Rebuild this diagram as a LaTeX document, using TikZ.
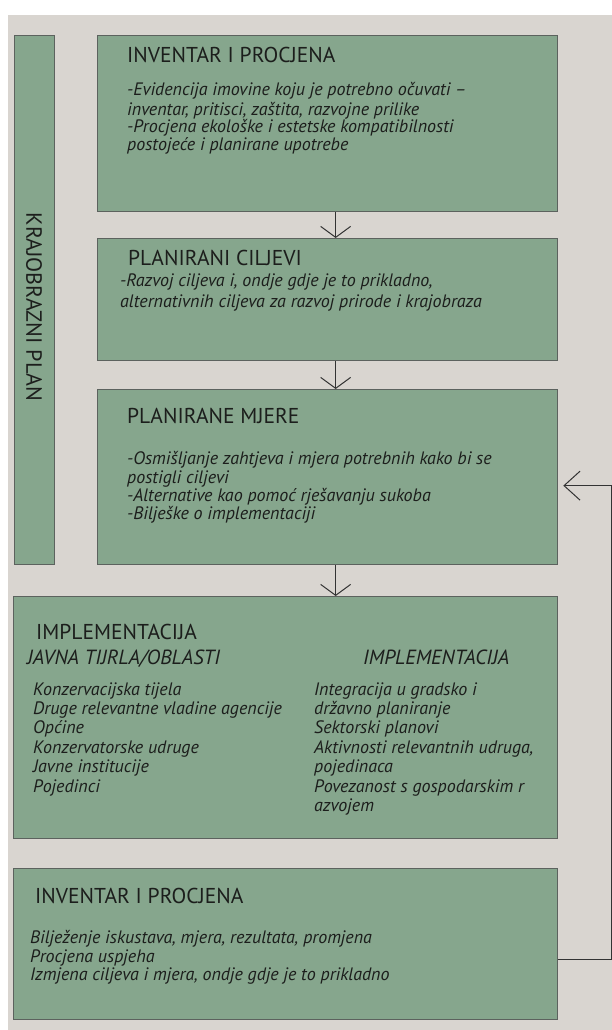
\documentclass[tikz,border=0pt]{standalone}
\usepackage{fontspec}
\setmainfont{PT Sans}
\usepackage{xcolor}
\usetikzlibrary{arrows.meta}

\definecolor{pozadina}{HTML}{D9D5D0}
\definecolor{zelena}{HTML}{86A68D}
\definecolor{rub}{HTML}{5C625E}
\definecolor{tekst}{HTML}{1C1E1C}

\tikzset{
	okvir/.style={draw=rub, line width=1.3pt, fill=zelena, anchor=north west, inner sep=0pt},
	naslov/.style={anchor=base west, inner sep=0pt, text=tekst, font=\fontsize{21.5}{24}\selectfont},
	podnaslov/.style={anchor=base west, inner sep=0pt, text=tekst, font=\fontsize{20.5}{24}\selectfont\itshape},
	opis/.style={anchor=north west, inner sep=0pt, text=tekst, align=left, font=\fontsize{18}{#1}\selectfont\itshape},
	opis/.default=17.6,
	strelica/.style={draw=black!80, line width=1pt, -{Straight Barb[length=11pt,width=30pt]}}
}

\begin{document}
\begin{tikzpicture}[x=1pt,y=-1pt]
		\useasboundingbox (0,0) rectangle (612,1030);
		\fill[white] (0,0) rectangle (612,1030);
		\fill[pozadina] (8,15) rectangle (612,1030);

		% okvir lijevo
		\node[okvir, minimum width=40pt, minimum height=529pt] (plan) at (14,35) {};
		\node[rotate=270, text=tekst, inner sep=0pt, font=\fontsize{22}{24}\selectfont] (plantxt) at (34,307) {KRAJOBRAZNI PLAN};

		% inventar i procjena
		\node[okvir, minimum width=460pt, minimum height=176pt] (inv) at (97,35) {};
		\node[naslov] (invnaslov) at (127,63) {INVENTAR I PROCJENA};
		\node[opis] (invopis) at (127,82.4) {\strut-Evidencija imovine koju je potrebno očuvati –\\
			inventar, pritisci, zaštita, razvojne prilike\\
			-Procjena ekološke i estetske kompatibilnosti\\
			postojeće i planirane upotrebe};

		% planirani ciljevi
		\node[okvir, minimum width=460pt, minimum height=122pt] (ciljevi) at (97,238) {};
		\node[naslov] (ciljnaslov) at (128,265) {PLANIRANI CILJEVI};
		\node[opis=21] (ciljopis) at (120,272) {\strut-Razvoj ciljeva i, ondje gdje je to prikladno,\\
			alternativnih ciljeva za razvoj prirode i krajobraza};

		% planirane mjere
		\node[okvir, minimum width=460pt, minimum height=175pt] (mjere) at (97,389) {};
		\node[naslov] (mjnaslov) at (127,423) {PLANIRANE MJERE};
		\node[opis] (mjopis) at (127,451.4) {\strut-Osmišljanje zahtjeva i mjera potrebnih kako bi se\\
			postigli ciljevi\\
			-Alternative kao pomoć rješavanju sukoba\\
			-Bilješke o implementaciji};

		% implementacija
		\node[okvir, minimum width=544pt, minimum height=242pt] (impl) at (13,596) {};
		\node[naslov] (implnaslov) at (36,639) {IMPLEMENTACIJA};
		\node[podnaslov] (tijela) at (27,664) {JAVNA TIJRLA/OBLASTI};
		\node[podnaslov] (provedba) at (363,664) {IMPLEMENTACIJA};
		\node[opis=19.4] (tijelaopis) at (33,681.4) {\strut Konzervacijska tijela\\
			Druge relevantne vladine agencije\\
			Općine\\
			Konzervatorske udruge\\
			Javne institucije\\
			Pojedinci};
		\node[opis=19.4] (provedbaopis) at (314,681.4) {\strut Integracija u gradsko i\\
			državno planiranje\\
			Sektorski planovi\\
			Aktivnosti relevantnih udruga,\\
			pojedinaca\\
			Povezanost s gospodarskim r\\
			azvojem};

		% inventar i procjena (provjera)
		\node[okvir, minimum width=544pt, minimum height=151pt] (eval) at (13,868) {};
		\node[naslov] (evalnaslov) at (35,903) {INVENTAR I PROCJENA};
		\node[opis=18] (evalopis) at (30,930.4) {\strut Bilježenje iskustava, mjera, rezultata, promjena\\
			Procjena uspjeha\\
			Izmjena ciljeva i mjera, ondje gdje je to prikladno};

		% strelice
		\draw[strelica] (inv.south)++(8,0) -- ([xshift=8pt]ciljevi.north);
		\draw[strelica] (ciljevi.south)++(8,0) -- ([xshift=8pt]mjere.north);
		\draw[strelica] (mjere.south)++(8,0) -- ([xshift=8pt]impl.north -| mjere.south);

		\coordinate (izlaz) at ([yshift=-15pt]eval.east);
		\coordinate (ulaz) at ([yshift=-8.5pt]mjere.east);
		\draw[strelica, -{Straight Barb[length=16pt,width=29pt]}] (izlaz) -- ++(53,0) |- ([xshift=5pt]ulaz);
	\end{tikzpicture}
\end{document}
